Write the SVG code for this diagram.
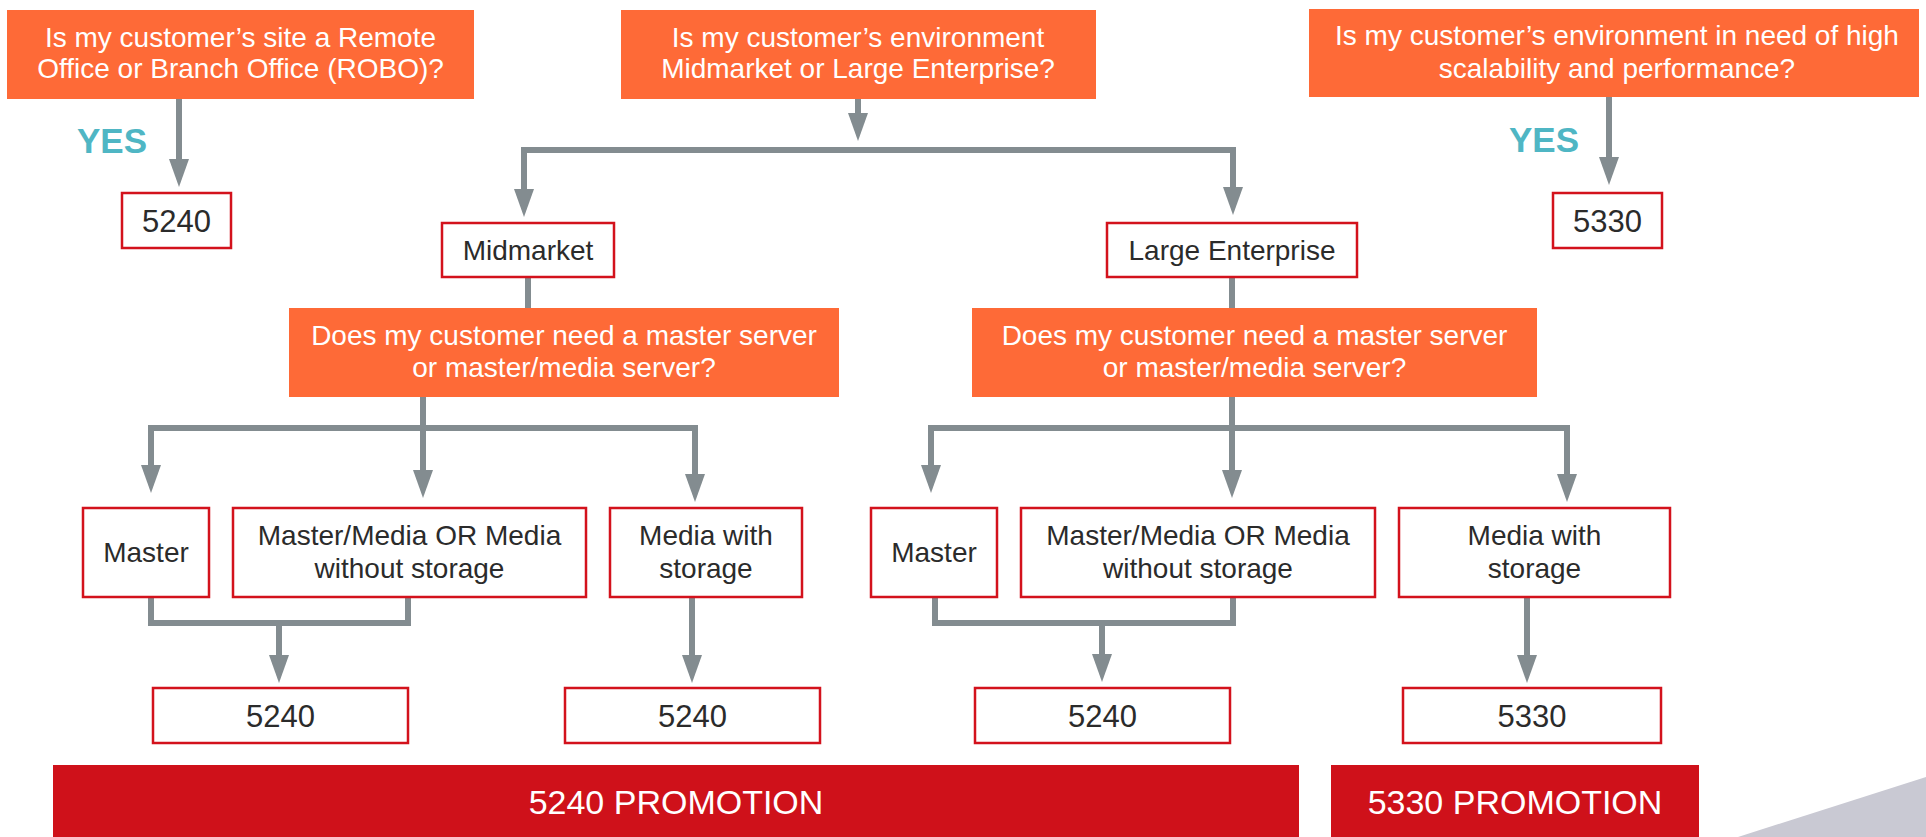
<svg xmlns="http://www.w3.org/2000/svg" width="1926" height="837" viewBox="0 0 1926 837">
  <style>
    .q { fill: #fe6a37; }
    .qt { font-family: "Liberation Sans", Arial, sans-serif; font-size: 28px; fill: #ffffff; text-anchor: middle; }
    .box { fill: #ffffff; stroke: #d3121c; stroke-width: 2.5; }
    .bt { font-family: "Liberation Sans", Arial, sans-serif; font-size: 28px; fill: #2b2b2b; text-anchor: middle; }
    .num { font-family: "Liberation Sans", Arial, sans-serif; font-size: 31px; fill: #2b2b2b; text-anchor: middle; }
    .yes { font-family: "Liberation Sans", Arial, sans-serif; font-size: 35px; font-weight: bold; fill: #4fb6c4; }
    .bar { fill: #cf111a; }
    .bart { font-family: "Liberation Sans", Arial, sans-serif; font-size: 34px; fill: #ffffff; text-anchor: middle; }
    .c { fill: none; stroke: #838c90; stroke-width: 6; }
    .a { fill: none; stroke: #838c90; stroke-width: 6; marker-end: url(#head); }
  </style>
  <defs>
    <marker id="head" markerUnits="userSpaceOnUse" viewBox="0 0 28 20" refX="0" refY="10" markerWidth="28" markerHeight="20" orient="auto">
      <path d="M0,0 L28,10 L0,20 z" fill="#838c90"/>
    </marker>
  </defs>

  <!-- decorative corner -->
  <polygon points="1738,837 1926,777 1926,837" fill="#c9c9d3"/>

  <!-- connectors -->
  <g id="connectors">
    <!-- top row -->
    <line class="a" x1="179" y1="99" x2="179" y2="159"/>
    <line class="a" x1="1609" y1="97" x2="1609" y2="157"/>
    <line class="a" x1="858" y1="99" x2="858" y2="113"/>
    <path class="c" d="M524,185 V150 H1233 V185"/>
    <line class="a" x1="524" y1="184" x2="524" y2="189"/>
    <line class="a" x1="1233" y1="184" x2="1233" y2="187"/>
    <line class="c" x1="528" y1="277" x2="528" y2="308"/>
    <line class="c" x1="1232" y1="277" x2="1232" y2="308"/>

    <!-- midmarket split -->
    <line class="c" x1="423" y1="397" x2="423" y2="428"/>
    <path class="c" d="M151,466 V428 H695 V474"/>
    <line class="a" x1="151" y1="464" x2="151" y2="465"/>
    <line class="a" x1="423" y1="428" x2="423" y2="470"/>
    <line class="a" x1="695" y1="472" x2="695" y2="474"/>

    <!-- large enterprise split -->
    <line class="c" x1="1232" y1="397" x2="1232" y2="428"/>
    <path class="c" d="M931,466 V428 H1567 V474"/>
    <line class="a" x1="931" y1="464" x2="931" y2="465"/>
    <line class="a" x1="1232" y1="428" x2="1232" y2="470"/>
    <line class="a" x1="1567" y1="472" x2="1567" y2="474"/>

    <!-- bottom row -->
    <path class="c" d="M151,597 V623 H408 V597"/>
    <line class="a" x1="279" y1="626" x2="279" y2="655"/>
    <line class="a" x1="692" y1="597" x2="692" y2="655"/>
    <path class="c" d="M935,597 V623 H1233 V597"/>
    <line class="a" x1="1102" y1="626" x2="1102" y2="654"/>
    <line class="a" x1="1527" y1="597" x2="1527" y2="655"/>
  </g>

  <!-- questions -->
  <g id="q-robo">
    <rect class="q" x="7" y="10" width="467" height="89"/>
    <text class="qt" x="240.5" y="47">Is my customer’s site a Remote</text>
    <text class="qt" x="240.5" y="78">Office or Branch Office (ROBO)?</text>
  </g>
  <g id="q-env">
    <rect class="q" x="621" y="10" width="475" height="89"/>
    <text class="qt" x="858" y="47">Is my customer’s environment</text>
    <text class="qt" x="858" y="78">Midmarket or Large Enterprise?</text>
  </g>
  <g id="q-scale">
    <rect class="q" x="1309" y="9" width="610" height="88"/>
    <text class="qt" x="1617" y="45">Is my customer’s environment in need of high</text>
    <text class="qt" x="1617" y="78">scalability and performance?</text>
  </g>

  <g id="yes-robo"><text class="yes" x="77" y="153">YES</text></g>
  <g id="yes-scale"><text class="yes" x="1509" y="152">YES</text></g>

  <g id="r-robo">
    <rect class="box" x="122" y="193" width="109" height="55"/>
    <text class="num" x="176.5" y="232">5240</text>
  </g>
  <g id="r-scale">
    <rect class="box" x="1553" y="193" width="109" height="55"/>
    <text class="num" x="1607.5" y="232">5330</text>
  </g>

  <!-- segments -->
  <g id="midmarket">
    <rect class="box" x="442" y="223" width="172" height="54"/>
    <text class="bt" x="528" y="260">Midmarket</text>
  </g>
  <g id="large-enterprise">
    <rect class="box" x="1107" y="223" width="250" height="54"/>
    <text class="bt" x="1232" y="260">Large Enterprise</text>
  </g>

  <g id="q-mid-server">
    <rect class="q" x="289" y="308" width="550" height="89"/>
    <text class="qt" x="564" y="345">Does my customer need a master server</text>
    <text class="qt" x="564" y="377">or master/media server?</text>
  </g>
  <g id="q-le-server">
    <rect class="q" x="972" y="308" width="565" height="89"/>
    <text class="qt" x="1254.5" y="345">Does my customer need a master server</text>
    <text class="qt" x="1254.5" y="377">or master/media server?</text>
  </g>

  <!-- server roles -->
  <g id="mid-master">
    <rect class="box" x="83" y="508" width="126" height="89"/>
    <text class="bt" x="146" y="562">Master</text>
  </g>
  <g id="mid-mastermedia">
    <rect class="box" x="233" y="508" width="353" height="89"/>
    <text class="bt" x="409.5" y="545">Master/Media OR Media</text>
    <text class="bt" x="409.5" y="578">without storage</text>
  </g>
  <g id="mid-media-storage">
    <rect class="box" x="610" y="508" width="192" height="89"/>
    <text class="bt" x="706" y="545">Media with</text>
    <text class="bt" x="706" y="578">storage</text>
  </g>
  <g id="le-master">
    <rect class="box" x="871" y="508" width="126" height="89"/>
    <text class="bt" x="934" y="562">Master</text>
  </g>
  <g id="le-mastermedia">
    <rect class="box" x="1021" y="508" width="354" height="89"/>
    <text class="bt" x="1198" y="545">Master/Media OR Media</text>
    <text class="bt" x="1198" y="578">without storage</text>
  </g>
  <g id="le-media-storage">
    <rect class="box" x="1399" y="508" width="271" height="89"/>
    <text class="bt" x="1534.5" y="545">Media with</text>
    <text class="bt" x="1534.5" y="578">storage</text>
  </g>

  <!-- models -->
  <g id="mid-5240-a">
    <rect class="box" x="153" y="688" width="255" height="55"/>
    <text class="num" x="280.5" y="727">5240</text>
  </g>
  <g id="mid-5240-b">
    <rect class="box" x="565" y="688" width="255" height="55"/>
    <text class="num" x="692.5" y="727">5240</text>
  </g>
  <g id="le-5240">
    <rect class="box" x="975" y="688" width="255" height="55"/>
    <text class="num" x="1102.5" y="727">5240</text>
  </g>
  <g id="le-5330">
    <rect class="box" x="1403" y="688" width="258" height="55"/>
    <text class="num" x="1532" y="727">5330</text>
  </g>

  <!-- promotions -->
  <g id="promo-5240">
    <rect class="bar" x="53" y="765" width="1246" height="72"/>
    <text class="bart" x="676" y="814">5240 PROMOTION</text>
  </g>
  <g id="promo-5330">
    <rect class="bar" x="1331" y="765" width="368" height="72"/>
    <text class="bart" x="1515" y="814">5330 PROMOTION</text>
  </g>
</svg>
